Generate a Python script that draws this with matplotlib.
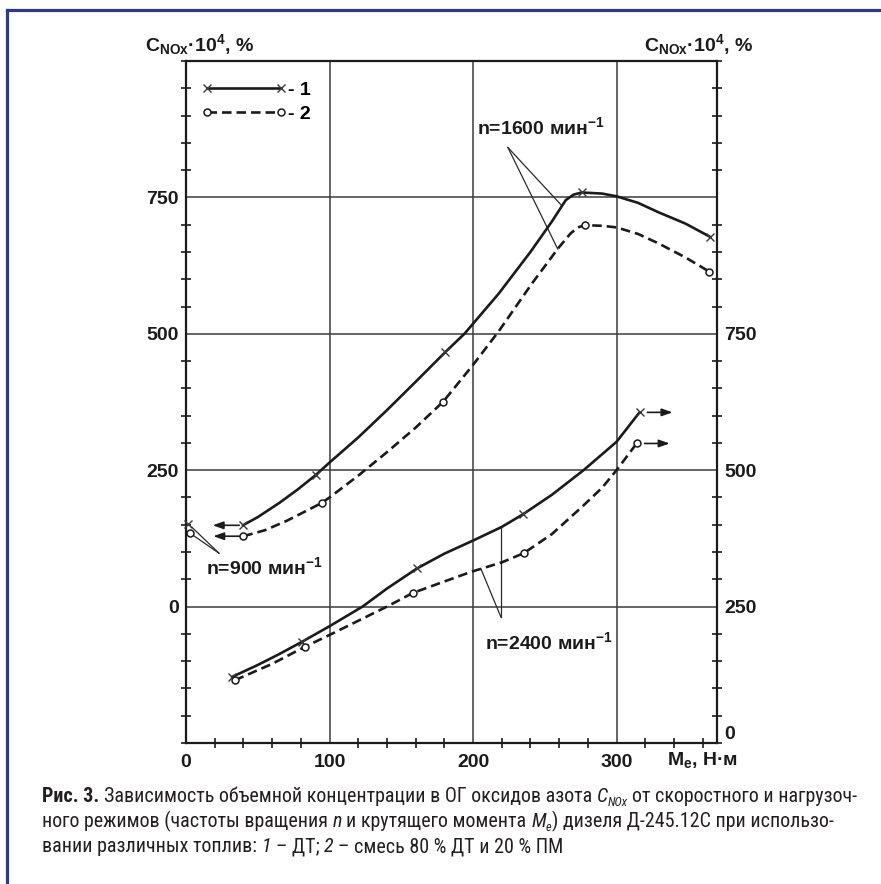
import numpy as np
import matplotlib
matplotlib.use("Agg")
import matplotlib.pyplot as plt
from matplotlib import font_manager
from matplotlib.lines import Line2D
from matplotlib.transforms import IdentityTransform

W, H = 881, 884

# ---------------------------------------------------------------------------
# Torque Me (N·m) against NOx volume concentration (x10^4 %)
# curve 1 - diesel fuel, curve 2 - blend 80 % DF + 20 % PM
# ---------------------------------------------------------------------------
# n = 900 -> 1600 min^-1 branch, left scale
upper1_x = [39.6, 50, 65, 78, 90.3, 100, 120, 140, 160, 180.5, 194, 218, 240,
            255, 264.6, 270, 275.7, 290, 300, 315, 329, 348, 365]
upper1_y = [149, 164, 190, 215, 241, 264, 310, 360, 412, 466, 500, 574, 650,
            706, 745, 755, 759, 757, 752, 740, 723, 702, 678]
upper2_x = [40, 55, 70, 85, 94.5, 100, 120, 140, 160, 179, 200, 218, 241,
            259.7, 268, 273, 278, 290, 300, 315, 329, 348, 364.6]
upper2_y = [129, 140, 157, 177, 190, 200, 240, 283, 328, 375, 443, 505, 592,
            658, 684, 695, 699, 698, 695, 683, 666, 640, 614]

# n = 2400 min^-1 branch, right scale
lower1_x = [32, 50, 65, 80.5, 100, 123, 140, 161, 180, 200, 220, 234.7, 255,
            277, 300, 316]
lower1_y = [121, 143, 163, 185, 214, 250, 283, 320, 347, 371, 396, 419, 455,
            500, 552, 606]
lower2_x = [34, 60, 82.6, 100, 120, 140, 158, 180, 199, 220, 235.4, 255, 276,
            290, 300, 314]
lower2_y = [115, 145, 176, 198, 224, 250, 275, 296, 314, 331, 348, 383, 433,
            468, 500, 549]

# measured points (markers)
upper1_mx = [39.6, 90.3, 180.5, 275.7, 365]
upper1_my = [149, 241, 466, 759, 678]
upper2_mx = [40, 94.5, 179, 278, 364.6]
upper2_my = [129, 190, 375, 699, 614]
lower1_mx = [32, 80.5, 161, 234.7, 316]
lower1_my = [121, 185, 320, 419, 606]
lower2_mx = [34, 82.6, 158, 235.4, 314]
lower2_my = [115, 176, 275, 348, 549]
# n = 900 values carried to the left scale
axis900_mx = [1.4, 2.8]
axis900_my = [151, 135]

x_ticks = [0, 100, 200, 300]
left_ticks = [0, 250, 500, 750]
right_ticks = [0, 250, 500, 750]

# ---------------------------------------------------------------------------
plt.rcParams["font.family"] = ["Liberation Sans", "DejaVu Sans"]
plt.rcParams["font.weight"] = "bold"
plt.rcParams["mathtext.fontset"] = "custom"
plt.rcParams["mathtext.rm"] = "Liberation Sans:bold"
plt.rcParams["mathtext.it"] = "Liberation Sans:italic:bold"
plt.rcParams["mathtext.bf"] = "Liberation Sans:bold"

ink = "#1b1b1b"
grid_c = "#3c3c3c"
txt_size = 14

fig = plt.figure(figsize=(W / 100, H / 100), dpi=100)
fig.patch.set_facecolor("white")
ax = fig.add_axes([186 / W, 141 / H, 531 / W, 682 / H])
ax.set_xlim(0, 370)
ax.set_ylim(-250, 1000)
ax2 = ax.twinx()
ax2.set_ylim(0, 1250)
for s in ax2.spines.values():
    s.set_visible(False)
for s in ax.spines.values():
    s.set_linewidth(1.6)
    s.set_color(ink)

ax.set_xticks(x_ticks)
ax.set_xticks(np.arange(0, 371, 20), minor=True)
ax.set_yticks(left_ticks)
ax.set_yticks(np.arange(-250, 1001, 50), minor=True)
ax.tick_params(which="major", length=0, labelsize=txt_size, colors=ink)
ax.tick_params(axis="x", which="major", pad=8)
ax.tick_params(axis="y", which="major", pad=5)
ax.tick_params(which="minor", direction="inout", length=7, width=1.2,
               color=ink, left=True, right=True, bottom=True, top=False)
ax2.set_yticks(right_ticks)
ax2.tick_params(which="major", length=0, labelsize=txt_size, pad=5, colors=ink)
ax2.tick_params(which="minor", length=0)
# the bottom "0" of the right scale sits just above the corner
ax2.get_yticklabels()[0].set_verticalalignment("bottom")
ax.grid(True, which="major", color=grid_c, lw=1.1)
ax.set_axisbelow(True)

solid = dict(color=ink, lw=1.9, solid_capstyle="round", zorder=3)
dashed = dict(color=ink, lw=1.9, ls=(0, (3.6, 1.9)), zorder=3)
mk_x = dict(ls="none", marker="x", ms=6, mew=1.0, mec="#3a3a3a", zorder=4)
mk_o = dict(ls="none", marker="o", ms=5, mew=1.1, mec=ink, mfc="white", zorder=4)

ax.plot(upper1_x, upper1_y, **solid)
ax.plot(upper2_x, upper2_y, **dashed)
ax.plot(upper1_mx, upper1_my, **mk_x)
ax.plot(upper2_mx, upper2_my, **mk_o)
ax.plot(axis900_mx[:1], axis900_my[:1], clip_on=False, **mk_x)
ax.plot(axis900_mx[1:], axis900_my[1:], clip_on=False, **mk_o)

ax2.plot(lower1_x, lower1_y, **solid)
ax2.plot(lower2_x, lower2_y, **dashed)
ax2.plot(lower1_mx, lower1_my, **mk_x)
ax2.plot(lower2_mx, lower2_my, **mk_o)

# arrows showing which scale each branch is read on
arrow = dict(arrowstyle="-|>,head_length=0.45,head_width=0.16", lw=1.2,
             color=ink, shrinkA=0, shrinkB=0, mutation_scale=14)
for mx, my in ((upper1_mx[0], upper1_my[0]), (upper2_mx[0], upper2_my[0])):
    ax.annotate("", xy=(mx - 21, my), xytext=(mx - 2.5, my), arrowprops=arrow)
for mx, my in ((lower1_mx[-1], lower1_my[-1]), (lower2_mx[-1], lower2_my[-1])):
    ax2.annotate("", xy=(mx + 23, my), xytext=(mx + 5.5, my), arrowprops=arrow)

lead = dict(color="#2a2a2a", lw=0.9, zorder=2)
# n = 1600 leaders
o1600 = (224.3, 841.5)
for cx, cy, xt in ((upper1_x, upper1_y, 262.0), (upper2_x, upper2_y, 259.0)):
    ax.plot([o1600[0], xt], [o1600[1], np.interp(xt, cx, cy)], **lead)
ax.text(203, 879, "n=1600 мин$^{\\mathregular{-1}}$", fontsize=txt_size,
        ha="left", va="center", color=ink)
# n = 900 leaders
o900 = (22.9, 98)
for mx, my in zip(axis900_mx, axis900_my):
    ax.plot([o900[0], mx + 2.5], [o900[1], my - 5], clip_on=False, **lead)
ax.text(14, 72, "n=900 мин$^{\\mathregular{-1}}$", fontsize=txt_size,
        ha="left", va="center", color=ink)
# n = 2400 leaders (right scale)
o2400 = (219.4, 231)
ax2.plot([o2400[0], o2400[0]], [o2400[1], np.interp(o2400[0], lower1_x, lower1_y)], **lead)
ax2.plot([o2400[0], 205.5], [o2400[1], np.interp(205.5, lower2_x, lower2_y)], **lead)
ax2.text(208.6, 185, "n=2400 мин$^{\\mathregular{-1}}$", fontsize=txt_size,
         ha="left", va="center", color=ink)

# legend
h1 = Line2D([], [], color=ink, lw=1.9, marker="x", ms=6, mew=1.0, mec="#3a3a3a")
h2 = Line2D([], [], color=ink, lw=1.9, ls=(0, (3.6, 1.9)), marker="o", ms=5,
            mew=1.1, mec=ink, mfc="white")
ax.legend([h1, h2], ["- 1", "- 2"], loc="upper left",
          bbox_to_anchor=(15 / 531, 1 - 20 / 682), frameon=False, numpoints=2,
          handlelength=4.4, handletextpad=0.1, fontsize=txt_size,
          labelspacing=0.35, borderpad=0, borderaxespad=0)

# axis titles
ylab = "C$_{\\mathregular{NOx}}$·10$^{\\mathregular{4}}$, %"
fig.text(199 / W, 1 - 45 / H, ylab, fontsize=txt_size, ha="center",
         va="center", color=ink)
fig.text(698 / W, 1 - 45 / H, ylab, fontsize=txt_size, ha="center",
         va="center", color=ink)
fig.text(703 / W, 1 - 760 / H, "M$_{\\mathregular{e}}$, Н·м", fontsize=txt_size,
         ha="center", va="center", color=ink)

# frame of the figure block
blue = "#2b3990"
fig.add_artist(Line2D([7, W], [H - 10, H - 10], transform=IdentityTransform(),
                      color=blue, lw=2.3))
fig.add_artist(Line2D([7, 7], [0, H - 10], transform=IdentityTransform(),
                      color=blue, lw=2.3))

# caption
names = {f.name for f in font_manager.fontManager.ttflist}
cap_family = next((n for n in ["Liberation Sans Narrow", "Roboto Condensed",
                               "Open Sans Condensed", "Noto Sans Condensed"]
                   if n in names), "Liberation Sans")

caption = [
    [("Рис. 3.", "b"), (" ", ""), ("Зависимость объемной концентрации в ОГ оксидов азота", ""),
     (" ", ""), ("C", "i"), ("NOx", "isub"), (" ", ""), ("от скоростного и нагрузоч-", "")],
    [("ного режимов (частоты вращения", ""), (" ", ""), ("n", "i"), (" ", ""),
     ("и крутящего момента", ""), (" ", ""), ("M", "i"), ("e", "isub"),
     (") дизеля Д-245.12С при использо-", "")],
    [("вании различных топлив:", ""), (" ", ""), ("1", "i"), (" ", ""), ("– ДТ;", ""),
     (" ", ""), ("2", "i"), (" ", ""), ("– смесь 80 % ДТ и 20 % ПМ", "")],
]

renderer = fig.canvas.get_renderer()


def measure(s, size, **kw):
    t = fig.text(0, 0, s, family=cap_family, size=size, weight="normal",
                 transform=IdentityTransform(), **kw)
    w = t.get_window_extent(renderer).width
    t.remove()
    return w


def draw_line(segs, x0, yb, size, draw=True):
    sp = measure("н н", size) - measure("нн", size)
    x = x0
    for txt, st in segs:
        if txt == " ":
            x += sp
            continue
        kw = dict(family=cap_family, size=size, color="#231f20", weight="normal")
        dy = 0
        if st == "b":
            kw["weight"] = "bold"
        if st in ("i", "isub"):
            kw["style"] = "italic"
        if st == "isub":
            kw["size"] = size * 0.62
            dy = -size * 0.3
        t = fig.text(x, yb + dy, txt, transform=IdentityTransform(),
                     ha="left", va="baseline", **kw)
        x += t.get_window_extent(renderer).width
        if not draw:
            t.remove()
    return x - x0


cap_x0 = 42
base = 13.0
w1 = draw_line(caption[0], cap_x0, -100, base, draw=False)
cap_size = float(np.clip(base * (857 - cap_x0) / w1, 10.5, 15.5))
for i, segs in enumerate(caption):
    draw_line(segs, cap_x0, H - (802 + 25 * i), cap_size)

fig.savefig("out.png", dpi=100)
